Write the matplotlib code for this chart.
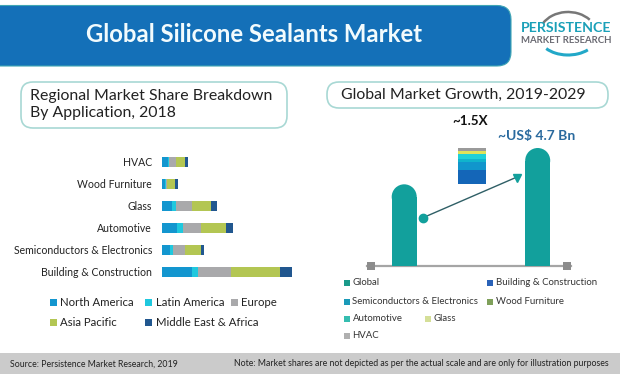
import numpy as np
import matplotlib
matplotlib.use("Agg")
import matplotlib.pyplot as plt
from matplotlib.patches import FancyBboxPatch, Rectangle, Ellipse, Arc

plt.rcParams["font.family"] = ["Lato", "DejaVu Sans"]

# shares (relative units, not given in the picture)
applications = ["Building & Construction", "Semiconductors & Electronics", "Automotive",
                "Glass", "Wood Furniture", "HVAC"]
regions = ["North America", "Latin America", "Europe", "Asia Pacific", "Middle East & Africa"]
north_america = [30, 8, 15, 10, 3, 6]
latin_america = [6, 3, 6, 4, 1, 1]
europe = [33, 12, 18, 16, 1, 7]
asia_pacific = [49, 16, 25, 19, 8, 9]
middle_east = [12, 3, 7, 6, 3, 3]
region_colors = ["#1396cf", "#1fc8de", "#a9a9ab", "#b3c653", "#21578f"]

# right chart
years = ["2019", "2029"]
market_size = [3.25, 4.7]
stack_names = ["Building & Construction", "Semiconductors & Electronics", "Wood Furniture",
               "Automotive", "Glass", "HVAC"]
stack_values = [14, 8, 3, 5, 3, 3]
stack_colors = ["#1466b8", "#1196cc", "#10b4cc", "#1fd0d8", "#dfe25a", "#9a9a9a"]
legend_colors = ["#1a9a8a", "#2a62b8", "#1a9ab8", "#7fa05a", "#35bdb0", "#d5df98", "#b0b0b0"]

W, H = 620, 374
fig = plt.figure(figsize=(W / 100, H / 100), dpi=100)
bg = fig.add_axes([0, 0, 1, 1])
bg.set_xlim(0, W)
bg.set_ylim(H, 0)
bg.axis("off")


def sub_axes(x0, y0, x1, y1):
    ax = fig.add_axes([x0 / W, 1 - y1 / H, (x1 - x0) / W, (y1 - y0) / H])
    ax.axis("off")
    ax.patch.set_alpha(0)
    return ax


# header band
bg.add_patch(FancyBboxPatch((-40, 5.5), 551, 60.5, boxstyle="round,pad=0,rounding_size=14",
                            fc="#1470b8", ec="#3fa6b4", lw=0.8))
bg.text(254, 34, "Global Silicone Sealants Market", color="#f2fbfd", fontsize=17.2,
        fontweight="bold", ha="center", va="center")

# logo
bg.text(566.5, 28, "PERSISTENCE", color="#1aa0b8", fontsize=10.2, fontweight="bold",
        ha="center", va="center")
bg.text(566.5, 40, "MARKET RESEARCH", color="#6a6a72", fontsize=6.9, fontweight="bold", ha="center", va="center")
bg.add_patch(Arc((568, 35), 58, 46, theta1=205, theta2=325, color="#777777", lw=1.8))
bg.add_patch(Arc((568, 36), 58, 38, theta1=35, theta2=150, color="#22a8c8", lw=2.2))

# title pills
for x, y, w, h in [(21, 82, 266, 46), (327, 82, 281, 26)]:
    bg.add_patch(FancyBboxPatch((x, y), w, h, boxstyle="round,pad=0,rounding_size=12",
                                fc="white", ec="#a8d8d4", lw=1.2))
bg.text(30, 95.5, "Regional Market Share Breakdown", fontsize=11.4, color="#222222", va="center")
bg.text(30, 113, "By Application, 2018", fontsize=11.4, color="#222222", va="center")
bg.text(463, 95, "Global Market Growth, 2019-2029", fontsize=11.4, color="#222222", va="center", ha="center")

# stacked bars, left chart. 1 unit = 1 px, rows 22 px apart
ax = sub_axes(162, 150, 302, 283)
ax.set_xlim(0, 140)
ypos = np.arange(len(applications))
ax.set_ylim(-0.5, 5.55)
left = np.zeros(len(applications))
for vals, col in zip([north_america, latin_america, europe, asia_pacific, middle_east], region_colors):
    ax.barh(ypos, vals, left=left, height=0.43, color=col)
    left += np.array(vals)
for y, name in zip(ypos, applications):
    ax.annotate(name, (0, y), xytext=(-10, 0), textcoords="offset pixels", ha="right", va="center",
                fontsize=7.6, color="#222222", annotation_clip=False)

# left legend
left_legend = [(50, 302.5), (145, 302.5), (231, 302.5), (50, 322.5), (145, 322.5)]
for (x, y), name, col in zip(left_legend, regions, region_colors):
    bg.add_patch(Rectangle((x, y - 3.5), 7, 7, fc=col, ec="none"))
    bg.text(x + 10.5, y, name, fontsize=8.2, color="#222222", va="center")

# growth bars, right chart
ax2 = sub_axes(367, 140, 571, 265.7)
ax2.set_xlim(367, 571)
ax2.set_ylim(0, 125.7 / 117.7 * 4.7)
centers = [404.2, 537.7]
bar_w = 25
r = (bar_w / 2) * (ax2.get_ylim()[1] / 125.7)
ax2.bar(centers, [v - r for v in market_size], width=bar_w, color="#12a09c")
for c, v in zip(centers, market_size):
    ax2.add_patch(Ellipse((c, v - r), bar_w, 2 * r, fc="#12a09c", ec="none"))

# axis line with square ends
bg.plot([367, 571], [265.7, 265.7], color="#a5a5a5", lw=1.6, zorder=3)
for x in (371, 567):
    bg.add_patch(Rectangle((x - 4, 262), 8, 8, fc="#8c8c8c", ec="none", zorder=4))

# small stack between the bars
ax3 = sub_axes(457.7, 148, 486, 183.5)
ax3.set_xlim(0, 1)
ax3.set_ylim(0, sum(stack_values))
base = 0
for v, col in zip(stack_values, stack_colors):
    ax3.bar(0.5, v, bottom=base, width=1, color=col)
    base += v

# growth arrow
bg.plot([423, 517], [217.7, 177], color="#2f5f66", lw=1, zorder=4)
bg.plot([517], [177.5], marker="v", ms=6, color="#12a09c", zorder=5)
bg.plot([423], [217.7], marker="o", ms=6, color="#12a09c", zorder=5)

bg.text(470, 120.5, "~1.5X", fontsize=9.6, fontweight="bold", color="#111111", ha="center", va="center")
bg.text(537, 135.5, "~US$ 4.7 Bn", fontsize=10, fontweight="bold", color="#2a6a9e", ha="center", va="center")

# right legend
right_legend = [(344, 282.7), (487, 282.7), (344, 301.7), (487, 301.7), (344, 318.7), (425, 318.7), (344, 335.7)]
right_names = ["Global", "Building & Construction", "Semiconductors & Electronics", "Wood Furniture",
               "Automotive", "Glass", "HVAC"]
for (x, y), name, col in zip(right_legend, right_names, legend_colors):
    bg.add_patch(Rectangle((x, y - 2.7), 5.5, 5.5, fc=col, ec="none"))
    bg.text(x + 8.5, y, name, fontsize=6.9, color="#333333", va="center")

# footer
bg.add_patch(Rectangle((0, 353), W, 21, fc="#cbcbcb", ec="none"))
bg.text(10, 364, "Source: Persistence Market Research, 2019", fontsize=6.3, color="#222222", va="center")
bg.text(609, 364, "Note: Market shares are not depicted as per the actual scale and are only for illustration purposes",
        fontsize=6.3, color="#222222", va="center", ha="right")

fig.savefig("out.png", dpi=100)
